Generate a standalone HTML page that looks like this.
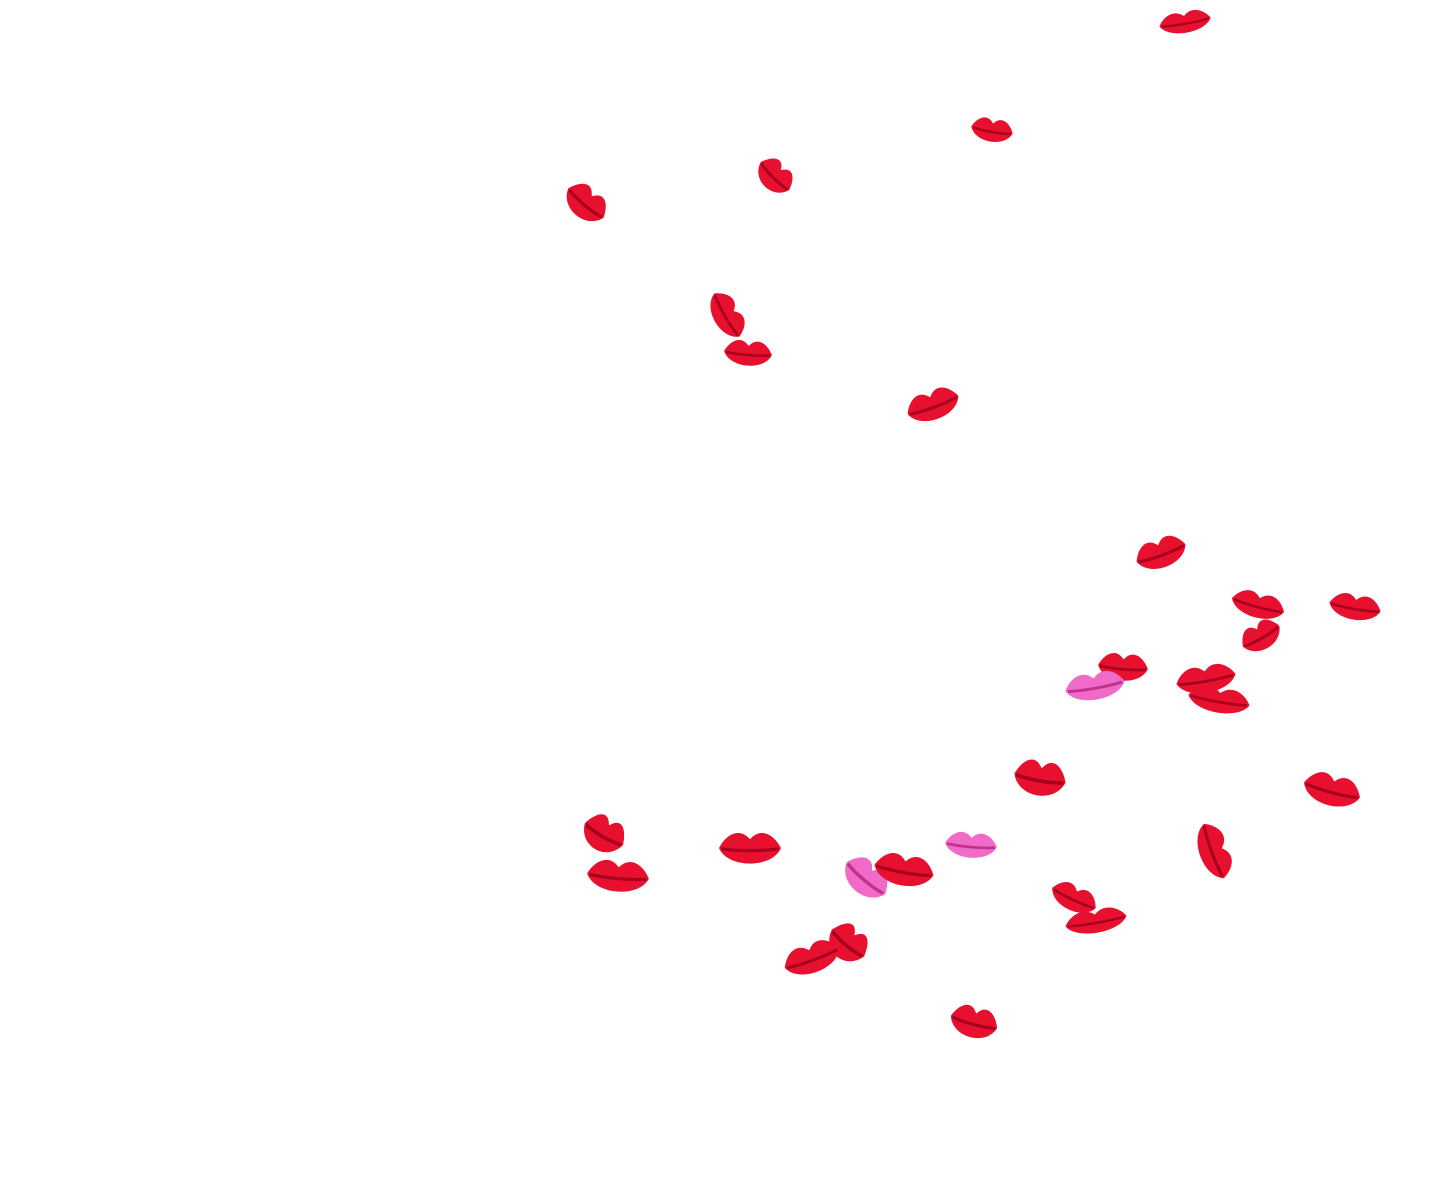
<!DOCTYPE html>
<html><head><meta charset="utf-8"><style>
html,body{margin:0;padding:0;background:#fff;width:1448px;height:1190px;overflow:hidden}
</style></head><body>
<svg width="1448" height="1190" viewBox="0 0 1448 1190" xmlns="http://www.w3.org/2000/svg">
<defs>
<g id="r"><path d="M-50 0 C-38 -18,-18 -24,-4 -14 L0 -11 L4 -14 C18 -24,38 -18,50 0 C36 26,-36 26,-50 0 Z" fill="#e8102f"/><path d="M-46 1 C-20 4,20 4,46 1" fill="none" stroke="#a8001c" stroke-width="4"/></g>
<g id="p"><path d="M-50 0 C-38 -18,-18 -24,-4 -14 L0 -11 L4 -14 C18 -24,38 -18,50 0 C36 26,-36 26,-50 0 Z" fill="#f06ac8"/><path d="M-46 1 C-20 4,20 4,46 1" fill="none" stroke="#c0308f" stroke-width="4"/></g>
</defs>
<use href="#r" transform="translate(1185,22) rotate(-10) scale(0.52,0.55)"/>
<use href="#r" transform="translate(992,130) rotate(10) scale(0.42,0.6)"/>
<use href="#r" transform="translate(775,176) rotate(45) scale(0.40,0.75)"/>
<use href="#r" transform="translate(586,203) rotate(40) scale(0.46,0.8)"/>
<use href="#r" transform="translate(727,315) rotate(60) scale(0.50,0.7)"/>
<use href="#r" transform="translate(748,353) rotate(5) scale(0.48,0.65)"/>
<use href="#r" transform="translate(933,405) rotate(-20) scale(0.54,0.75)"/>
<use href="#r" transform="translate(1161,553) rotate(-20) scale(0.52,0.75)"/>
<use href="#r" transform="translate(1258,605) rotate(15) scale(0.54,0.65)"/>
<use href="#r" transform="translate(1355,607) rotate(10) scale(0.52,0.65)"/>
<use href="#r" transform="translate(1261,636) rotate(-30) scale(0.42,0.7)"/>
<use href="#r" transform="translate(1123,667) rotate(5) scale(0.50,0.7)"/>
<use href="#p" transform="translate(1095,686) rotate(-10) scale(0.60,0.7)"/>
<use href="#r" transform="translate(1206,679) rotate(-10) scale(0.60,0.7)"/>
<use href="#r" transform="translate(1219,700) rotate(10) scale(0.62,0.65)"/>
<use href="#r" transform="translate(1040,778) rotate(10) scale(0.52,0.9)"/>
<use href="#r" transform="translate(1332,790) rotate(15) scale(0.58,0.8)"/>
<use href="#r" transform="translate(604,834) rotate(30) scale(0.44,0.9)"/>
<use href="#r" transform="translate(618,876) rotate(5) scale(0.62,0.8)"/>
<use href="#r" transform="translate(750,848) rotate(0) scale(0.62,0.8)"/>
<use href="#p" transform="translate(866,878) rotate(40) scale(0.50,0.85)"/>
<use href="#r" transform="translate(904,870) rotate(10) scale(0.60,0.8)"/>
<use href="#p" transform="translate(971,845) rotate(5) scale(0.52,0.65)"/>
<use href="#r" transform="translate(1214,851) rotate(70) scale(0.58,0.75)"/>
<use href="#r" transform="translate(1074,898) rotate(25) scale(0.48,0.65)"/>
<use href="#r" transform="translate(1096,921) rotate(-10) scale(0.62,0.6)"/>
<use href="#r" transform="translate(848,943) rotate(40) scale(0.42,0.9)"/>
<use href="#r" transform="translate(812,958) rotate(-20) scale(0.58,0.75)"/>
<use href="#r" transform="translate(974,1022) rotate(15) scale(0.48,0.8)"/>
</svg>
</body></html>
